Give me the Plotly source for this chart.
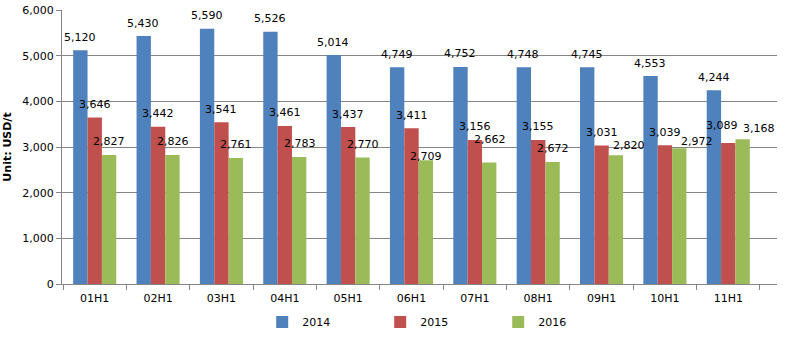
import plotly.graph_objects as go

periods = ["01H1", "02H1", "03H1", "04H1", "05H1", "06H1", "07H1", "08H1", "09H1", "10H1", "11H1"]
price_2014 = [5120, 5430, 5590, 5526, 5014, 4749, 4752, 4748, 4745, 4553, 4244]
price_2015 = [3646, 3442, 3541, 3461, 3437, 3411, 3156, 3155, 3031, 3039, 3089]
price_2016 = [2827, 2826, 2761, 2783, 2770, 2709, 2662, 2672, 2820, 2972, 3168]

series = [
    ("2014", price_2014, "#4F81BD"),
    ("2015", price_2015, "#C0504D"),
    ("2016", price_2016, "#9BBB59"),
]

font_family = "DejaVu Sans, Verdana, sans-serif"

# figure geometry
W, H = 800, 337
M_L, M_R, M_T, M_B = 62, 23, 10, 53
BARGAP = 0.32
plot_w = W - M_L - M_R
bar_px = plot_w / len(periods) * (1 - BARGAP) / len(series)

# value labels sit above their bar; a few are nudged (dx, dy in px) to keep them apart
LABEL_LIFT = 13
label_nudge = {
    ("2015", "11H1"): (-6, 4),
    ("2016", "06H1"): (0, -9),
    ("2016", "07H1"): (0, 10),
    ("2016", "09H1"): (13, -3),
    ("2016", "10H1"): (17, -6),
    ("2016", "11H1"): (16, -2),
}

fig = go.Figure()
annotations = []
for idx, (name, vals, color) in enumerate(series):
    fig.add_trace(go.Bar(
        name=name,
        x=periods,
        y=vals,
        marker=dict(color=color, line=dict(width=0)),
        hoverinfo="x+y+name",
    ))
    offset = (idx - (len(series) - 1) / 2) * bar_px
    for p, v in zip(periods, vals):
        dx, dy = label_nudge.get((name, p), (0, 0))
        annotations.append(dict(
            x=p, y=v, xref="x", yref="y",
            text=f"{v:,}",
            showarrow=False,
            xanchor="center", yanchor="middle",
            xshift=offset + dx,
            yshift=LABEL_LIFT + dy,
            font=dict(family=font_family, size=11, color="#000000"),
        ))

fig.update_layout(
    width=W,
    height=H,
    margin=dict(l=M_L, r=M_R, t=M_T, b=M_B, autoexpand=False),
    paper_bgcolor="white",
    plot_bgcolor="white",
    barmode="group",
    bargap=BARGAP,
    bargroupgap=0,
    font=dict(family=font_family, size=11, color="#000000"),
    annotations=annotations,
    legend=dict(
        orientation="h",
        x=0.280,
        xanchor="left",
        y=-0.139,
        yanchor="middle",
        entrywidth=73,
        font=dict(family=font_family, size=11),
    ),
    xaxis=dict(
        showline=True,
        linecolor="#868686",
        linewidth=1,
        ticks="outside",
        tickson="boundaries",
        ticklen=5,
        tickcolor="#868686",
        ticklabelstandoff=4,
        showgrid=False,
        automargin=False,
    ),
    yaxis=dict(
        range=[0, 6000],
        dtick=1000,
        tickformat=",",
        showline=True,
        linecolor="#868686",
        linewidth=1,
        ticks="outside",
        ticklen=5,
        tickcolor="#868686",
        showgrid=True,
        gridcolor="#868686",
        gridwidth=1,
        zeroline=False,
        automargin=False,
        title=dict(text="<b>Unit: USD/t</b>", standoff=8, font=dict(family=font_family, size=11)),
    ),
)

fig.write_html("out.html")
